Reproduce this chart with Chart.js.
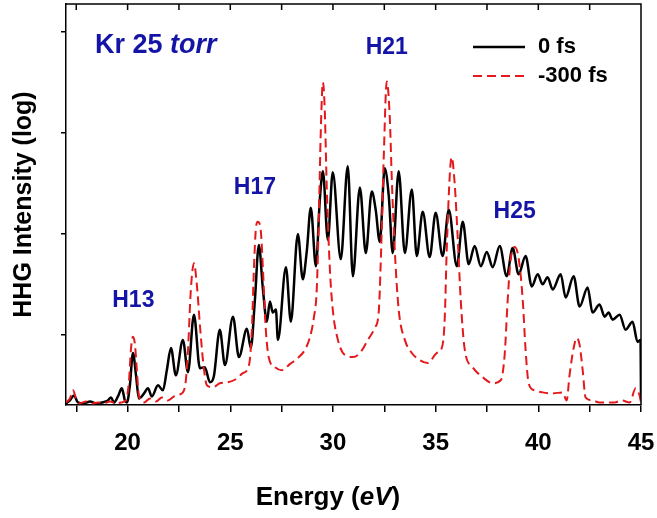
<!DOCTYPE html>
<html>
<head>
<meta charset="utf-8">
<script src="https://cdn.jsdelivr.net/npm/chart.js@4.4.0/dist/chart.umd.min.js"></script>
<style>
  body { margin: 0; background: #fff; }
  #wrap { width: 657px; height: 518px; }
</style>
</head>
<body>
<div id="wrap"><canvas id="chart" width="657" height="518"></canvas></div>
<script>
// photon energy (eV) and log10 of HHG intensity
const energy0 = [17.00, 17.19, 17.39, 17.58, 17.88, 18.17, 18.46, 18.75, 19.04, 19.19,
  19.34, 19.53, 19.72, 19.87, 19.97, 20.11, 20.26, 20.41, 20.55, 20.80,
  20.99, 21.18, 21.48, 21.72, 21.91, 22.11, 22.35, 22.69, 22.94, 23.23,
  23.52, 23.76, 24.01, 24.20, 24.49, 24.74, 25.13, 25.42, 25.81, 26.00,
  26.20, 26.39, 26.59, 26.78, 26.93, 27.07, 27.22, 27.32, 27.71, 27.95,
  28.29, 28.53, 28.73, 28.92, 29.17, 29.36, 29.51, 29.75, 29.99, 30.38,
  30.72, 30.97, 31.31, 31.60, 31.89, 32.08, 32.28, 32.52, 32.72, 32.91,
  33.20, 33.50, 33.84, 34.08, 34.37, 34.71, 35.00, 35.34, 35.64, 36.03,
  36.32, 36.61, 36.90, 37.20, 37.49, 37.78, 38.12, 38.46, 38.75, 39.04,
  39.38, 39.68, 39.97, 40.21, 40.45, 40.70, 41.09, 41.33, 41.72, 42.01,
  42.40, 42.64, 42.98, 43.23, 43.42, 43.62, 43.96, 44.25, 44.59, 44.83,
  44.98, 45.00];
const logI0 = [0.32, 0.35, 0.40, 0.33, 0.32, 0.34, 0.32, 0.33, 0.35, 0.38,
  0.33, 0.39, 0.47, 0.35, 0.33, 0.50, 0.82, 0.60, 0.37, 0.42,
  0.47, 0.39, 0.50, 0.45, 0.65, 0.87, 0.60, 0.95, 0.63, 1.20,
  0.67, 0.68, 0.53, 0.59, 1.05, 0.70, 1.18, 0.78, 1.06, 0.87,
  1.35, 1.89, 1.45, 1.13, 1.33, 1.22, 1.25, 0.95, 1.67, 1.13,
  2.00, 1.55, 1.84, 2.26, 1.68, 2.34, 2.62, 1.94, 2.61, 1.75,
  2.67, 1.58, 2.46, 1.81, 2.42, 2.24, 1.92, 2.65, 2.37, 1.81,
  2.62, 1.81, 2.44, 1.78, 2.22, 1.77, 2.21, 1.78, 2.24, 1.68,
  2.12, 1.70, 1.88, 1.68, 1.82, 1.67, 1.88, 1.58, 1.86, 1.60,
  1.78, 1.48, 1.60, 1.50, 1.57, 1.45, 1.60, 1.37, 1.58, 1.28,
  1.47, 1.22, 1.30, 1.18, 1.22, 1.15, 1.20, 1.05, 1.13, 0.93,
  0.95, 0.37];

const energy300 = [17.00, 17.19, 17.34, 17.49, 17.68, 17.97, 18.27, 18.56, 18.85, 19.14,
  19.43, 19.68, 19.92, 20.07, 20.16, 20.26, 20.36, 20.45, 20.55, 20.80,
  21.09, 21.38, 21.67, 21.96, 22.26, 22.55, 22.79, 22.94, 23.08, 23.23,
  23.37, 23.52, 23.67, 23.86, 24.15, 24.49, 24.88, 25.27, 25.61, 25.91,
  26.05, 26.15, 26.25, 26.34, 26.49, 26.59, 26.73, 26.88, 27.17, 27.51,
  27.90, 28.29, 28.63, 28.87, 29.07, 29.21, 29.31, 29.41, 29.51, 29.60,
  29.70, 29.85, 29.99, 30.24, 30.58, 30.97, 31.31, 31.70, 32.04, 32.23,
  32.33, 32.47, 32.62, 32.77, 32.86, 33.01, 33.20, 33.50, 33.84, 34.23,
  34.62, 35.05, 35.30, 35.44, 35.54, 35.69, 35.78, 35.93, 36.08, 36.22,
  36.42, 36.80, 37.29, 37.78, 38.17, 38.36, 38.51, 38.65, 38.85, 39.04,
  39.24, 39.38, 39.53, 39.82, 40.21, 40.70, 41.18, 41.38, 41.52, 41.72,
  41.87, 42.01, 42.16, 42.30, 42.64, 42.98, 43.33, 43.71, 44.06, 44.45,
  44.74, 44.93, 45.00];
const logI300 = [0.33, 0.37, 0.45, 0.37, 0.32, 0.34, 0.32, 0.33, 0.32, 0.34,
  0.32, 0.33, 0.35, 0.55, 0.85, 0.98, 0.90, 0.65, 0.40, 0.33,
  0.37, 0.34, 0.38, 0.35, 0.39, 0.41, 0.48, 0.85, 1.45, 1.71,
  1.50, 1.10, 0.75, 0.50, 0.48, 0.52, 0.53, 0.56, 0.62, 0.70,
  1.05, 1.65, 2.06, 2.12, 2.02, 1.65, 1.05, 0.77, 0.68, 0.65,
  0.71, 0.77, 0.85, 0.97, 1.17, 1.45, 2.14, 3.04, 3.50, 3.23,
  2.44, 1.65, 1.25, 0.95, 0.80, 0.78, 0.82, 0.95, 1.07, 1.23,
  1.74, 2.74, 3.51, 3.14, 2.57, 1.84, 1.25, 0.95, 0.82, 0.75,
  0.72, 0.82, 0.87, 1.15, 1.84, 2.59, 2.76, 2.49, 1.94, 1.35,
  0.85, 0.68, 0.58, 0.52, 0.55, 0.80, 1.35, 1.74, 1.87, 1.76,
  1.35, 0.85, 0.52, 0.45, 0.43, 0.42, 0.43, 0.35, 0.60, 0.87,
  0.97, 0.90, 0.65, 0.38, 0.35, 0.33, 0.33, 0.33, 0.35, 0.33,
  0.47, 0.40, 0.33];

const majorTicks = [20, 25, 30, 35, 40, 45];
const minorTicks = [17.5, 22.5, 27.5, 32.5, 37.5, 42.5];
const decadeTicks = [1, 2, 3, 4];

const harmonics = ['H13', 'H17', 'H21', 'H25'];
const harmonicE = [20.28, 26.20, 32.62, 38.85];
const harmonicLog = [1.34, 2.46, 3.84, 2.22];

const FONT = '"Liberation Sans", Arial, sans-serif';
const BLUE = '#1414a6';

const decor = {
  id: 'decor',
  afterDatasetsDraw(chart) {
    const { ctx, chartArea: a, scales: { x, y } } = chart;
    ctx.save();
    ctx.strokeStyle = '#000';
    ctx.lineWidth = 1.5;
    ctx.beginPath();
    ctx.moveTo(a.left, a.top);
    ctx.lineTo(a.right, a.top);
    ctx.lineTo(a.right, a.bottom);
    // ticks on the top edge point inwards
    x.ticks.forEach(t => {
      const px = x.getPixelForValue(t.value);
      ctx.moveTo(px, a.top);
      ctx.lineTo(px, a.top + 6);
    });
    ctx.stroke();

    ctx.fillStyle = BLUE;
    ctx.font = 'bold 23px ' + FONT;
    ctx.textAlign = 'center';
    ctx.textBaseline = 'middle';
    harmonics.forEach((h, i) => {
      ctx.fillText(h, x.getPixelForValue(harmonicE[i]), y.getPixelForValue(harmonicLog[i]));
    });

    ctx.textAlign = 'left';
    ctx.textBaseline = 'alphabetic';
    ctx.font = 'bold 27px ' + FONT;
    ctx.fillText('Kr 25 ', 95, 53);
    let w = ctx.measureText('Kr 25 ').width;
    ctx.font = 'italic bold 27px ' + FONT;
    ctx.fillText('torr', 95 + w, 53);

    // legend
    chart.data.datasets.forEach((ds, i) => {
      const ly = 47 + i * 29;
      ctx.strokeStyle = ds.borderColor;
      ctx.lineWidth = ds.borderWidth;
      ctx.setLineDash(ds.borderDash || []);
      ctx.beginPath();
      ctx.moveTo(473, ly);
      ctx.lineTo(525, ly);
      ctx.stroke();
      ctx.setLineDash([]);
      ctx.fillStyle = '#000';
      ctx.font = 'bold 22px ' + FONT;
      ctx.textBaseline = 'middle';
      ctx.fillText(ds.label, 538, ly);
    });

    // x axis title with italic unit
    ctx.fillStyle = '#000';
    ctx.textBaseline = 'alphabetic';
    const parts = [['Energy (', 'bold'], ['eV', 'italic bold'], [')', 'bold']];
    let total = 0;
    parts.forEach(p => { ctx.font = p[1] + ' 26px ' + FONT; total += ctx.measureText(p[0]).width; });
    let tx = 328 - total / 2;
    parts.forEach(p => {
      ctx.font = p[1] + ' 26px ' + FONT;
      ctx.fillText(p[0], tx, 505);
      tx += ctx.measureText(p[0]).width;
    });
    ctx.restore();
  }
};

new Chart(document.getElementById('chart'), {
  type: 'line',
  data: {
    datasets: [
      {
        label: '0 fs',
        data: energy0.map((e, i) => ({ x: e, y: logI0[i] })),
        borderColor: '#000',
        borderWidth: 2.5,
        pointRadius: 0,
        cubicInterpolationMode: 'monotone',
        order: 1
      },
      {
        label: '-300 fs',
        data: energy300.map((e, i) => ({ x: e, y: logI300[i] })),
        borderColor: '#e3191c',
        borderWidth: 2,
        borderDash: [9, 5],
        pointRadius: 0,
        cubicInterpolationMode: 'monotone',
        order: 0
      }
    ]
  },
  options: {
    responsive: false,
    animation: false,
    layout: { padding: { top: 4, right: 16, left: 0, bottom: 0 } },
    plugins: { legend: { display: false }, tooltip: { enabled: false } },
    scales: {
      x: {
        type: 'linear',
        min: 17,
        max: 45,
        afterBuildTicks: s => {
          s.ticks = minorTicks.concat(majorTicks).sort((a, b) => a - b).map(v => ({ value: v }));
        },
        afterFit: s => {
          s.height = 113;
          s.paddingLeft = 0;
          s.paddingRight = 0;
        },
        ticks: {
          autoSkip: false,
          maxRotation: 0,
          padding: 17,
          color: '#000',
          font: { family: FONT, size: 24, weight: 'bold' },
          callback: v => majorTicks.includes(v) ? String(v) : ''
        },
        grid: { drawOnChartArea: false, drawTicks: true, tickLength: 7, color: '#000', lineWidth: 1.5 },
        border: { color: '#000', width: 1.5 }
      },
      y: {
        type: 'linear',
        min: 0.305,
        max: 4.277,
        afterBuildTicks: s => { s.ticks = decadeTicks.map(v => ({ value: v })); },
        afterFit: s => {
          s.width = 66;
          s.paddingTop = 0;
          s.paddingBottom = 0;
        },
        ticks: { callback: () => '' },
        grid: { drawOnChartArea: false, drawTicks: true, tickLength: 5, color: '#000', lineWidth: 1.5 },
        border: { color: '#000', width: 1.5 },
        title: {
          display: true,
          text: 'HHG Intensity (log)',
          color: '#000',
          font: { family: FONT, size: 25, weight: 'bold' },
          padding: { top: 9, bottom: 0 }
        }
      }
    }
  },
  plugins: [decor]
});
</script>
</body>
</html>
